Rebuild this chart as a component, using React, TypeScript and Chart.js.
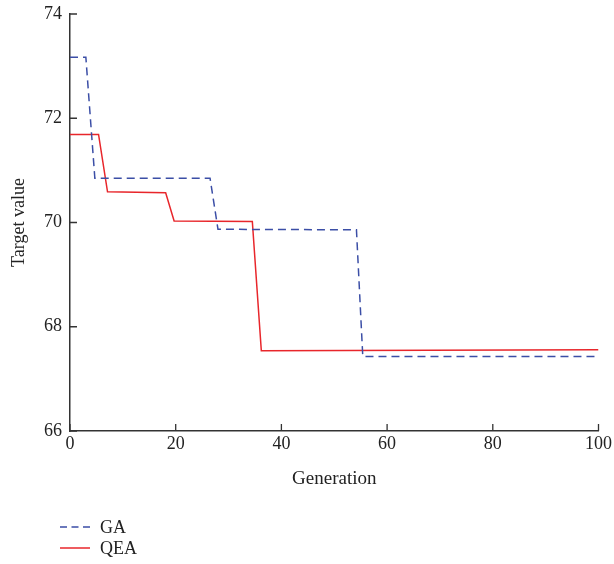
import React, { useEffect, useRef } from "react";
import { Chart, registerables } from "chart.js";

Chart.register(...registerables);

const gaGen = [0, 3, 4.7, 26.5, 28, 54.2, 55.4, 100];
const gaVal = [73.17, 73.17, 70.85, 70.85, 69.87, 69.86, 67.43, 67.43];
const qeaGen = [0, 5.4, 7.1, 18.1, 19.7, 34.5, 36.2, 100];
const qeaVal = [71.69, 71.69, 70.59, 70.57, 70.03, 70.02, 67.54, 67.56];
const xTicks = [0, 20, 40, 60, 80, 100];
const yTicks = [66, 68, 70, 72, 74];

const GA_COLOR = "#3b4ea6";
const QEA_COLOR = "#e8262b";
const AXIS_COLOR = "#333333";
const FONT = "'Liberation Serif', 'DejaVu Serif', serif";

const inwardTicks = {
  id: "inwardTicks",
  afterDraw(chart: any) {
    const { ctx, chartArea, scales } = chart;
    ctx.save();
    ctx.strokeStyle = AXIS_COLOR;
    ctx.lineWidth = 1.3;
    ctx.beginPath();
    for (const v of xTicks) {
      const px = scales.x.getPixelForValue(v);
      ctx.moveTo(px, chartArea.bottom);
      ctx.lineTo(px, chartArea.bottom - 7);
    }
    for (const v of yTicks) {
      const py = scales.y.getPixelForValue(v);
      ctx.moveTo(chartArea.left, py);
      ctx.lineTo(chartArea.left + 7, py);
    }
    ctx.stroke();
    ctx.restore();
  },
};

export default function App() {
  const ref = useRef<HTMLCanvasElement | null>(null);
  useEffect(() => {
    if (!ref.current) return;
    const chart = new Chart(ref.current, {
      type: "scatter",
      data: {
        datasets: [
          {
            label: "GA",
            data: gaGen.map((x, i) => ({ x, y: gaVal[i] })),
            showLine: true,
            borderColor: GA_COLOR,
            borderWidth: 1.5,
            borderDash: [8, 5],
            pointRadius: 0,
            tension: 0,
          },
          {
            label: "QEA",
            data: qeaGen.map((x, i) => ({ x, y: qeaVal[i] })),
            showLine: true,
            borderColor: QEA_COLOR,
            borderWidth: 1.5,
            pointRadius: 0,
            tension: 0,
          },
        ],
      },
      options: {
        animation: false,
        responsive: false,
        maintainAspectRatio: false,
        layout: { padding: { top: 14, left: 8, right: 0, bottom: 74 } },
        plugins: { legend: { display: false }, tooltip: { enabled: false } },
        scales: {
          x: {
            type: "linear",
            min: 0,
            max: 100,
            afterBuildTicks: (s: any) => {
              s.ticks = xTicks.map((v) => ({ value: v }));
            },
            grid: { display: false, drawTicks: false },
            border: { display: true, color: AXIS_COLOR, width: 1.5 },
            ticks: { color: "#222", font: { family: FONT, size: 18 }, padding: 2, maxRotation: 0 },
            title: {
              display: true,
              text: "Generation",
              color: "#222",
              font: { family: FONT, size: 19 },
              padding: { top: 4, bottom: 0 },
            },
            afterFit: (s: any) => {
              s.height = 59;
            },
          },
          y: {
            type: "linear",
            min: 66,
            max: 74,
            afterBuildTicks: (s: any) => {
              s.ticks = yTicks.map((v) => ({ value: v }));
            },
            grid: { display: false, drawTicks: false },
            border: { display: true, color: AXIS_COLOR, width: 1.5 },
            ticks: { color: "#222", font: { family: FONT, size: 18 }, padding: 8 },
            title: {
              display: true,
              text: "Target value",
              color: "#222",
              font: { family: FONT, size: 18 },
              padding: { top: 0, bottom: 4 },
            },
            afterFit: (s: any) => {
              s.width = 62;
              s.paddingTop = 0;
              s.paddingBottom = 0;
            },
          },
        },
      },
      plugins: [inwardTicks],
    });
    return () => chart.destroy();
  }, []);

  const legendRow = (label: string, color: string, dashed: boolean, top: number) => (
    <div style={{ position: "absolute", left: 60, top, display: "flex", alignItems: "center", height: 22 }}>
      <svg width={30} height={4} style={{ marginRight: 10, display: "block" }}>
        <line
          x1={0}
          y1={2}
          x2={30}
          y2={2}
          stroke={color}
          strokeWidth={1.5}
          strokeDasharray={dashed ? "7 4.5" : undefined}
        />
      </svg>
      <span style={{ fontFamily: FONT, fontSize: 18, color: "#222" }}>{label}</span>
    </div>
  );

  return (
    <div style={{ position: "absolute", left: 0, top: 0, width: 614, height: 564, background: "#fff" }}>
      <canvas ref={ref} width={614} height={564} style={{ display: "block" }} />
      {legendRow("GA", GA_COLOR, true, 516)}
      {legendRow("QEA", QEA_COLOR, false, 537)}
    </div>
  );
}
